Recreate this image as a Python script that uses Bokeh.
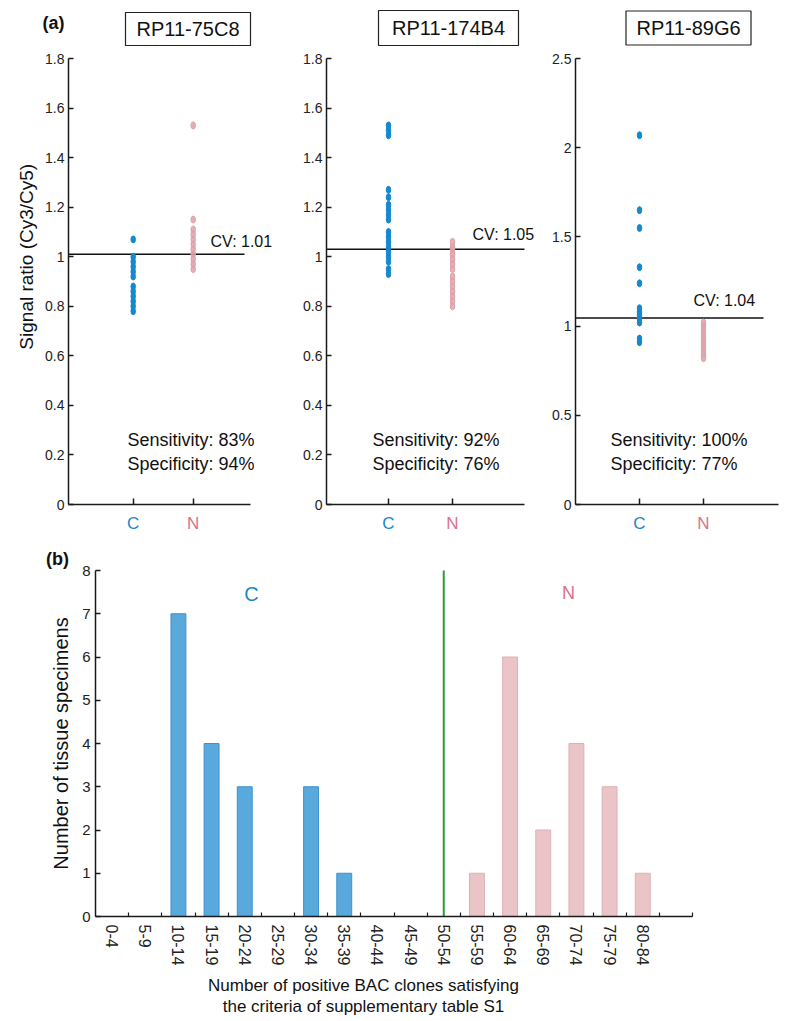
import math
from bokeh.plotting import figure
from bokeh.models import (Range1d, FixedTicker, CustomJSTickFormatter, Label,
                          ColumnDataSource, LinearAxis)
from bokeh.layouts import column, row
from bokeh.embed import file_html
from bokeh.resources import INLINE

FONT = "Liberation Sans"

# ---------------- data: panel (a) ----------------
clones = ["RP11-75C8", "RP11-174B4", "RP11-89G6"]
groups = ["C", "N"]

c_75C8 = [1.07, 1.00, 0.98, 0.96, 0.94, 0.92, 0.88, 0.86, 0.84, 0.82, 0.80, 0.78]
n_75C8 = [1.53, 1.15, 1.11, 1.09, 1.07, 1.05, 1.03, 1.01, 0.99, 0.97, 0.95]

c_174B4 = [1.53, 1.51, 1.49, 1.27, 1.24, 1.21, 1.19, 1.17, 1.15, 1.10, 1.08,
           1.06, 1.04, 1.02, 1.00, 0.98, 0.95, 0.93]
n_174B4 = [1.06, 1.04, 1.03, 1.01, 0.99, 0.97, 0.95, 0.92, 0.90, 0.88, 0.86,
           0.84, 0.82, 0.80]

c_89G6 = [2.07, 1.65, 1.55, 1.33, 1.24, 1.10, 1.08, 1.06, 1.04, 1.02, 0.93, 0.91]
n_89G6 = [1.02, 1.00, 0.98, 0.96, 0.94, 0.92, 0.90, 0.88, 0.86, 0.84, 0.82]

cv_line = [1.01, 1.03, 1.045]
cv_text = ["CV: 1.01", "CV: 1.05", "CV: 1.04"]
sensitivity = ["83%", "92%", "100%"]
specificity = ["94%", "76%", "77%"]
y_max = [1.8, 1.8, 2.5]
y_ticks_a = [
    [0, 0.2, 0.4, 0.6, 0.8, 1, 1.2, 1.4, 1.6, 1.8],
    [0, 0.2, 0.4, 0.6, 0.8, 1, 1.2, 1.4, 1.6, 1.8],
    [0, 0.5, 1, 1.5, 2, 2.5],
]
c_values = [c_75C8, c_174B4, c_89G6]
n_values = [n_75C8, n_174B4, n_89G6]

# ---------------- data: panel (b) ----------------
bins = ["0-4", "5-9", "10-14", "15-19", "20-24", "25-29", "30-34", "35-39",
        "40-44", "45-49", "50-54", "55-59", "60-64", "65-69", "70-74", "75-79", "80-84"]
c_counts = [0, 0, 7, 4, 3, 0, 3, 1, 0, 0, 0, 0, 0, 0, 0, 0, 0]
n_counts = [0, 0, 0, 0, 0, 0, 0, 0, 0, 0, 0, 1, 6, 2, 4, 3, 1]
threshold_bin = "50-54"
y_max_b = 8
n_slots = 18

# ---------------- colours ----------------
BLUE_DOT = "#1589cf"
PINK_DOT = "#dea2aa"
BLUE_TXT = "#1f86c6"
PINK_TXT = "#d9728b"
BLUE_BAR = "#5aa9dc"
BLUE_BAR_EDGE = "#3d91cd"
PINK_BAR = "#ebc4c8"
PINK_BAR_EDGE = "#dfb0b6"
GREEN = "#2f9a3a"
INK = "#1a1a1a"

# ---------------- layout geometry (pixels) ----------------
A_H = 540
A_TOP = 58
A_BOTTOM = 504
# (canvas width, frame left px, frame width px, px from frame-left to C, px per group step)
a_geom = [
    (280, 68, 182, 64.7, 60.0),
    (260, 46, 198, 62.0, 64.0),
    (247, 35, 203, 64.0, 64.0),
]
line_end_px = [176, 198, 188]
box_off = [(119.5, 29.5), (122, 30.5), (113, 30.5)]   # box centre: right of frame-left, above frame-top
box_size = [(125, 33), (140, 35), (125, 34)]
cv_off = [(142, 13), (146, 15), (118, 18)]
sens_x = [59, 46, 35]

B_W = 787
B_H = 480
B_TOP = 30
B_BOTTOM = 376
B_LEFT = 95
B_RIGHT = 692


def bare_figure(w, h, xr, yr):
    p = figure(width=w, height=h, x_range=xr, y_range=yr, output_backend="svg",
               toolbar_location=None, x_axis_location=None, y_axis_location=None,
               min_border_left=0, min_border_right=0, min_border_top=0,
               min_border_bottom=0)
    p.outline_line_color = None
    p.xgrid.visible = False
    p.ygrid.visible = False
    p.background_fill_color = "white"
    p.border_fill_color = "white"
    return p


def style_axis(ax, size="14px"):
    ax.axis_line_color = INK
    ax.axis_line_width = 1.5
    ax.major_tick_line_color = INK
    ax.major_tick_line_width = 1.5
    ax.major_tick_in = 5
    ax.major_tick_out = 0
    ax.minor_tick_line_color = None
    ax.major_label_text_font = FONT
    ax.major_label_text_font_size = size
    ax.major_label_text_color = "#222222"


def txt(p, x, y, text, xo=0, yo=0, size="17px", color="#111111", align="left",
        **kw):
    p.add_layout(Label(x=x, y=y, x_offset=xo, y_offset=yo, text=text,
                       text_font=FONT, text_font_size=size, text_color=color,
                       text_align=align, text_baseline="middle", **kw))


a_figs = []
for i in range(3):
    cw, fl, fw, c_px, step = a_geom[i]
    x0 = 1 - c_px / step              # data x at frame-left
    x1 = x0 + fw / step               # data x at frame-right
    sy = (A_BOTTOM - A_TOP) / y_max[i]
    xr = Range1d(x0 - fl / step, x0 + (cw - fl) / step)
    yr = Range1d(-(A_H - A_BOTTOM) / sy, y_max[i] + A_TOP / sy)
    p = bare_figure(cw, A_H, xr, yr)

    yax = LinearAxis(fixed_location=x0, bounds=(0, y_max[i]),
                     ticker=FixedTicker(ticks=y_ticks_a[i]),
                     formatter=CustomJSTickFormatter(
                         code="return String(Math.round(tick*10)/10)"))
    style_axis(yax)
    yax.major_label_standoff = 4
    p.add_layout(yax, "left")

    # two x axes at y=0: one per group, so each label gets its own colour
    for gi, col in enumerate([BLUE_TXT, PINK_TXT]):
        xax = LinearAxis(fixed_location=0, bounds=(x0, x1),
                         ticker=FixedTicker(ticks=[gi + 1]),
                         formatter=CustomJSTickFormatter(
                             args=dict(labels=groups),
                             code="return labels[Math.round(tick) - 1]"))
        style_axis(xax, "17px")
        xax.major_tick_in = 6
        xax.major_label_text_color = col
        xax.major_label_standoff = 9
        if gi == 1:
            xax.axis_line_color = None
        p.add_layout(xax, "below")

    # CV line
    p.segment(x0=[x0], y0=[cv_line[i]], x1=[x0 + line_end_px[i] / step],
              y1=[cv_line[i]], line_color="#111111", line_width=1.6)

    # dots
    cs = ColumnDataSource(dict(x=[1] * len(c_values[i]), y=c_values[i]))
    ns = ColumnDataSource(dict(x=[2] * len(n_values[i]), y=n_values[i]))
    p.ellipse(x="x", y="y", width=4.5, height=7, width_units="screen",
              height_units="screen", source=ns, fill_color=PINK_DOT,
              line_color=PINK_DOT, fill_alpha=0.85)
    p.ellipse(x="x", y="y", width=4.5, height=7, width_units="screen",
              height_units="screen", source=cs, fill_color=BLUE_DOT,
              line_color=BLUE_DOT)

    # title box
    bxo, byo = box_off[i]
    bw, bh = box_size[i]
    bcx = x0 + bxo / step
    bcy = y_max[i] + byo / sy
    p.rect(x=[bcx], y=[bcy], width=bw, height=bh, width_units="screen",
           height_units="screen", fill_color="white", line_color="#222222",
           line_width=1.2)
    txt(p, bcx, bcy, clones[i], size="20px", align="center")

    cx, cy = cv_off[i]
    txt(p, x0, cv_line[i], cv_text[i], xo=cx, yo=cy, size="16px")
    txt(p, x0, 0, "Sensitivity: " + sensitivity[i], xo=sens_x[i], yo=65, size="18px")
    txt(p, x0, 0, "Specificity: " + specificity[i], xo=sens_x[i], yo=41, size="18px")
    if i == 0:
        txt(p, x0, y_max[i], "(a)", xo=-15, yo=36, size="18px", align="center",
            text_font_style="bold")
        txt(p, x0, 1.0, "Signal ratio (Cy3/Cy5)", xo=-42, size="19px",
            align="center", angle=math.pi / 2)
    a_figs.append(p)

# ---------------- panel (b) ----------------
sx = (B_RIGHT - B_LEFT) / n_slots
sy = (B_BOTTOM - B_TOP) / y_max_b
xr = Range1d(-B_LEFT / sx, (B_W - B_LEFT) / sx)
yr = Range1d(-(B_H - B_BOTTOM) / sy, y_max_b + B_TOP / sy)
pb = bare_figure(B_W, B_H, xr, yr)

xs = [k + 0.5 for k in range(len(bins))]
pb.vbar(x=xs, top=c_counts, width=0.45, fill_color=BLUE_BAR,
        line_color=BLUE_BAR_EDGE, line_width=1)
pb.vbar(x=xs, top=n_counts, width=0.45, fill_color=PINK_BAR,
        line_color=PINK_BAR_EDGE, line_width=1)
tx = bins.index(threshold_bin) + 0.5
pb.segment(x0=[tx], y0=[0], x1=[tx], y1=[y_max_b], line_color=GREEN, line_width=2)

bx = LinearAxis(fixed_location=0, bounds=(0, n_slots),
                ticker=FixedTicker(ticks=xs, minor_ticks=list(range(1, n_slots + 1))),
                formatter=CustomJSTickFormatter(args=dict(labels=bins),
                                                code="return labels[Math.floor(tick)]"))
style_axis(bx, "16px")
bx.major_tick_in = 0
bx.major_tick_out = 0
bx.minor_tick_line_color = INK
bx.minor_tick_line_width = 1.2
bx.minor_tick_in = 4
bx.minor_tick_out = 0
bx.major_label_orientation = -math.pi / 2
bx.major_label_standoff = 8
pb.add_layout(bx, "below")

by = LinearAxis(fixed_location=0, bounds=(0, y_max_b),
                ticker=FixedTicker(ticks=list(range(0, y_max_b + 1))))
style_axis(by, "15px")
by.major_label_standoff = 5
pb.add_layout(by, "left")

txt(pb, 0, y_max_b / 2, "Number of tissue specimens", xo=-35, size="20px",
    align="center", angle=math.pi / 2)
txt(pb, 0, y_max_b, "(b)", xo=-38, yo=12, size="18px", align="center",
    text_font_style="bold")
txt(pb, 0, y_max_b, "C", xo=156, yo=-23, size="20px", color=BLUE_TXT, align="center")
txt(pb, 0, y_max_b, "N", xo=473, yo=-22, size="18px", color=PINK_TXT, align="center")
txt(pb, 0, 0, "Number of positive BAC clones satisfying", xo=268, yo=-69,
    align="center")
txt(pb, 0, 0, "the criteria of supplementary table S1", xo=268, yo=-90,
    align="center")

layout = column(row(*a_figs, spacing=0), pb, spacing=0)
open("out.html", "w").write(file_html(layout, INLINE))
